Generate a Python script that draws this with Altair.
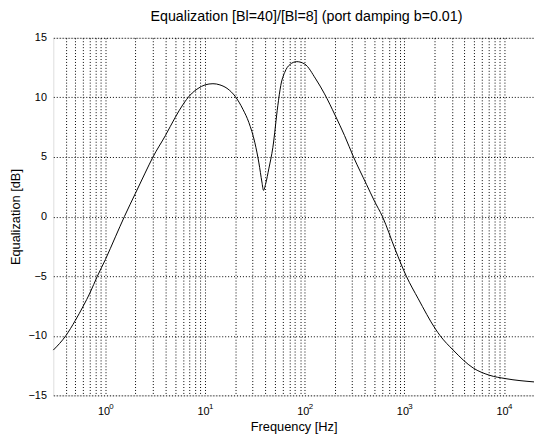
import altair as alt
import pandas as pd

# Curve (frequency in Hz, equalization in dB)
freq_hz = [0.3, 0.4, 0.5, 0.6, 0.7, 0.83, 1.0, 1.26, 1.55, 2.0, 2.5, 3.0, 4.0, 5.0,
           6.0, 7.1, 8.5, 10, 12, 14.1, 17, 20, 24, 27.5, 31.6, 34.7, 37.2, 38.6,
           40.7, 43.6, 47.9, 53.7, 57.5, 63, 70.8, 83.2, 100, 129, 158, 202, 251,
           309, 417, 501, 603, 813, 1047, 1380, 2040, 2290, 3090, 4900, 7080,
           10470, 20000]
gain_db = [-11.2, -10.0, -8.7, -7.5, -6.4, -5.0, -3.6, -1.7, 0.0, 1.95, 3.65, 5.0, 6.8, 8.3,
           9.4, 10.2, 10.75, 11.05, 11.15, 11.05, 10.7, 10.1, 9.0, 7.9, 6.2, 4.5, 2.9, 2.2,
           2.8, 4.0, 5.8, 9.3, 11.0, 12.1, 12.75, 13.0, 12.8, 11.55, 10.3, 8.5, 6.8,
           5.0, 2.7, 1.3, 0.0, -2.8, -5.0, -6.9, -9.4, -10.0, -11.2, -12.7, -13.3,
           -13.6, -13.87]

x_grid = [0.4, 0.5, 0.6, 0.7, 0.8, 0.9,
          1, 2, 3, 4, 5, 6, 7, 8, 9,
          10, 20, 30, 40, 50, 60, 70, 80, 90,
          100, 200, 300, 400, 500, 600, 700, 800, 900,
          1000, 2000, 3000, 4000, 5000, 6000, 7000, 8000, 9000,
          10000]
decades = [1, 10, 100, 1000, 10000]
exponents = ["0", "1", "2", "3", "4"]
y_ticks = [-15, -10, -5, 0, 5, 10, 15]

title_text = "Equalization [Bl=40]/[Bl=8] (port damping b=0.01)"
x_title = "Frequency [Hz]"
y_title = "Equalization [dB]"

FONT = "Liberation Sans"
W, H = 488, 363

df = pd.DataFrame({"f": freq_hz, "db": gain_db})
dec_df = pd.DataFrame({"f": decades, "e": exponents})

xscale = alt.Scale(type="log", domain=[0.3, 20000], nice=False)
yscale = alt.Scale(domain=[-15, 15], nice=False)

line = alt.Chart(df).mark_line(color="black", strokeWidth=1, interpolate="monotone").encode(
    x=alt.X("f:Q", scale=xscale,
            axis=alt.Axis(values=x_grid, grid=True, gridColor="black", gridDash=[1, 2],
                          gridOpacity=1, gridWidth=1, ticks=False, tickSize=0, domain=False,
                          labelExpr="indexof([1,10,100,1000,10000], datum.value) >= 0 ? '10' : ''",
                          labelOverlap=False, labelFlush=False, labelPadding=10,
                          labelFont=FONT, labelFontSize=11, labelColor="black",
                          labelOffset=-2,
                          title=x_title, titleFont=FONT, titleFontSize=13,
                          titleFontWeight="normal", titleColor="black", titlePadding=5)),
    y=alt.Y("db:Q", scale=yscale,
            axis=alt.Axis(values=y_ticks, grid=True, gridColor="black", gridDash=[1, 2],
                          gridOpacity=1, gridWidth=1, ticks=False, tickSize=0, domain=False,
                          labelFont=FONT, labelFontSize=11, labelColor="black",
                          labelPadding=7,
                          title=y_title, titleFont=FONT, titleFontSize=13,
                          titleFontWeight="normal", titleColor="black", titlePadding=6)),
)

exps = alt.Chart(dec_df).mark_text(font=FONT, fontSize=8, align="left", baseline="top",
                                   dx=4, color="black").encode(
    x=alt.X("f:Q", scale=xscale),
    y=alt.value(H + 8),
    text="e:N",
)

chart = alt.layer(line, exps).properties(
    width=W, height=H,
    title=alt.TitleParams(title_text, font=FONT, fontSize=14.5, fontWeight="normal",
                          color="black", anchor="middle", dx=13, offset=7.5),
    autosize=alt.AutoSizeParams(type="none"),
    padding={"left": 46, "top": 27, "right": 0, "bottom": 40},
).configure_view(stroke="black", strokeWidth=1).configure(background="white")

chart.save("out.html", embed_options={"renderer": "svg", "actions": False})
